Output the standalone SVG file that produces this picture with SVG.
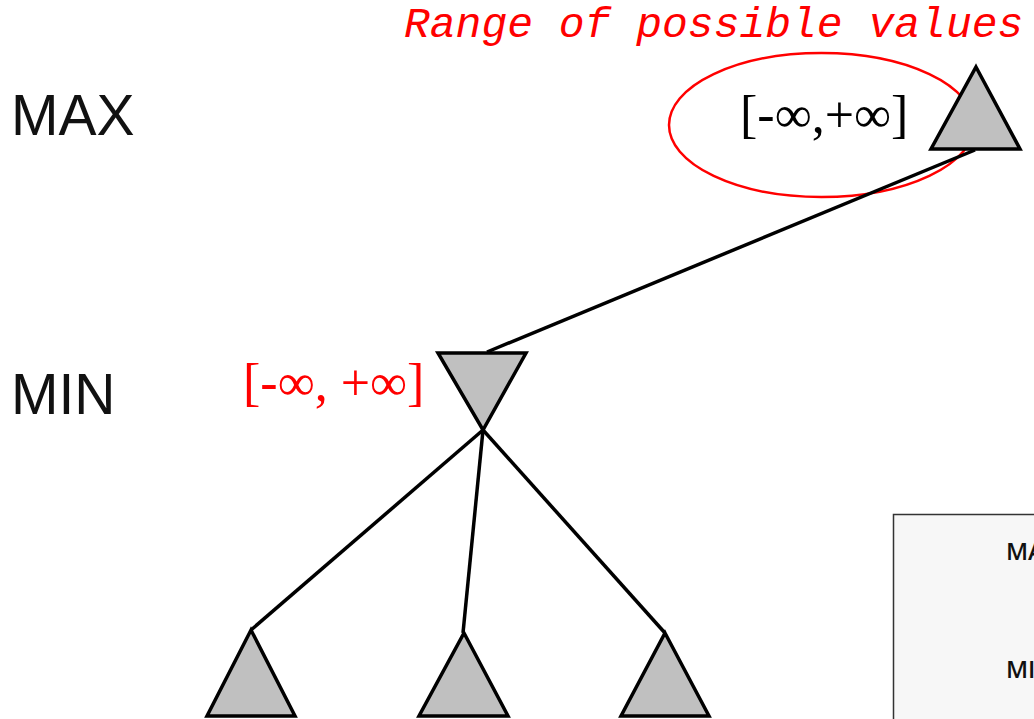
<svg xmlns="http://www.w3.org/2000/svg" width="1034" height="719" viewBox="0 0 1034 719">
<style>
.tri{fill:#c0c0c0;stroke:#000;stroke-width:3.5;stroke-linejoin:miter}
.edge{stroke:#000;stroke-width:3.5;fill:none}
.lvl{font-family:"Liberation Sans",Arial,sans-serif;font-size:57px;fill:#111}
.rng{font-family:"Liberation Serif","Times New Roman",serif;font-size:52px}
.note{font-family:"Liberation Mono","Courier New",monospace;font-style:italic;font-size:43px;fill:#ff0000}
.inset{font-family:"Open Sans","Liberation Sans",sans-serif;font-weight:600;font-size:24px;fill:#111}
</style>
<defs>
<clipPath id="clipInset"><rect x="0" y="0" width="1034" height="719"/></clipPath>
</defs>
<rect width="1034" height="719" fill="#fff"/>

<g id="inset" clip-path="url(#clipInset)">
<rect x="893.5" y="514.5" width="160" height="220" fill="#f7f7f7" stroke="#333" stroke-width="1.5"/>
<text class="inset" x="1006" y="560">MAX</text>
<text class="inset" x="1006" y="678">MIN</text>
</g>

<g id="labels">
<text class="lvl" x="11" y="135">MAX</text>
<text class="lvl" x="11" y="414">MIN</text>
</g>

<g id="note">
<text class="note" x="404" y="37">Range of possible values</text>
<ellipse cx="821.5" cy="125" rx="152.5" ry="72" fill="none" stroke="#ff0000" stroke-width="2.5"/>
</g>

<g id="connectors">
<line class="edge" x1="975" y1="150" x2="487" y2="352"/>
<line class="edge" x1="483" y1="430" x2="251" y2="630"/>
<line class="edge" x1="483" y1="430" x2="463" y2="633"/>
<line class="edge" x1="483" y1="430" x2="665" y2="633"/>
</g>

<g id="max-root">
<polygon class="tri" points="976,67 1020,149 931,149"/>
<text class="rng" x="740" y="132" fill="#000">[-∞,+∞]</text>
</g>

<g id="min-node">
<polygon class="tri" points="438,353 526,353 483,430"/>
<text class="rng" x="243" y="400" fill="#ff0000">[-∞, +∞]</text>
</g>

<g id="leaf1"><polygon class="tri" points="251,630 295,716 207,716"/></g>
<g id="leaf2"><polygon class="tri" points="464,633 508,716 419,716"/></g>
<g id="leaf3"><polygon class="tri" points="665,633 709,716 621,716"/></g>
</svg>
